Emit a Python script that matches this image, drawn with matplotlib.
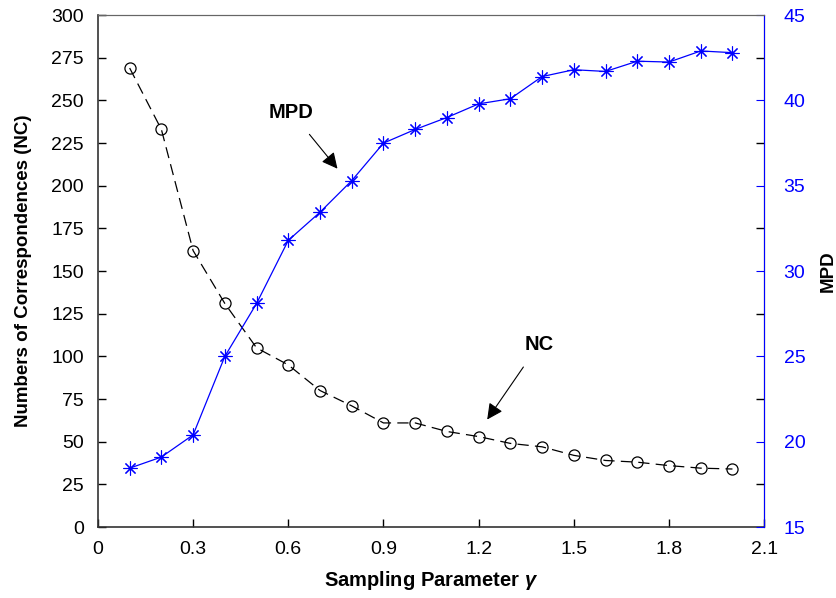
import matplotlib
matplotlib.use('Agg')
import matplotlib.pyplot as plt
import numpy as np

gamma = [0.1, 0.2, 0.3, 0.4, 0.5, 0.6, 0.7, 0.8, 0.9, 1.0,
         1.1, 1.2, 1.3, 1.4, 1.5, 1.6, 1.7, 1.8, 1.9, 2.0]
nc = [269, 233, 162, 131, 105, 95, 80, 71, 61, 61,
      56, 53, 49, 47, 42, 39, 38, 36, 34.5, 34]
mpd = [18.45, 19.1, 20.4, 25.0, 28.1, 31.8, 33.45, 35.3, 37.5, 38.3,
       39.0, 39.8, 40.1, 41.4, 41.8, 41.7, 42.3, 42.25, 42.9, 42.8]

plt.rcParams['font.family'] = ['Liberation Sans', 'DejaVu Sans']
plt.rcParams['mathtext.fontset'] = 'custom'
plt.rcParams['mathtext.it'] = 'Liberation Sans:italic:bold'

fig = plt.figure(figsize=(8.37, 5.98), dpi=100)
ax = fig.add_axes([0.117, 0.1187, 0.796, 0.856])
ax2 = ax.twinx()

ax.plot(gamma, nc, color='black', lw=0.9, dashes=(9, 5),
        marker='o', ms=8, mfc='none', mec='black', mew=0.9)
ax2.plot(gamma, mpd, color='blue', lw=0.9,
         marker=(8, 2, 0), ms=10, mec='blue', mew=0.8)

ax.set_xlim(0, 2.1)
ax.set_ylim(0, 300)
ax.set_xticks(np.arange(0, 2.11, 0.3))
ax.set_xticklabels(['0', '0.3', '0.6', '0.9', '1.2', '1.5', '1.8', '2.1'])
ax.set_yticks(np.arange(0, 301, 25))
ax2.set_ylim(15, 45)
ax2.set_yticks(np.arange(15, 46, 5))
ax2.set_yticks(np.arange(17.5, 45, 5), minor=True)

ax.tick_params(direction='in', length=6, labelsize=14, pad=10, width=1)
ax2.tick_params(axis='y', which='major', direction='in', length=6,
                labelsize=14, labelcolor='blue', color='blue', pad=14)
ax2.tick_params(axis='y', which='minor', direction='in', length=6,
                color='black', width=1)

for s in ['left', 'bottom']:
    ax.spines[s].set_color('#333333')
    ax.spines[s].set_linewidth(1.2)
ax.spines['top'].set_color('#666666')
ax2.spines['top'].set_color('#666666')
ax2.spines['right'].set_color('blue')
ax2.spines['left'].set_visible(False)
ax2.spines['bottom'].set_visible(False)

ax.set_xlabel(r'Sampling Parameter $\gamma$', fontsize=14.5, fontweight='bold', labelpad=8)
ax.set_ylabel('Numbers of Correspondences (NC)', fontsize=13.5, fontweight='bold', labelpad=14)
ax2.set_ylabel('MPD', fontsize=13.5, fontweight='bold', labelpad=10)

ax2.annotate('MPD', xy=(0.755, 35.3 + 0.7), xytext=(0.61, 39.3),
             fontsize=14.5, fontweight='bold', ha='center', va='center',
             arrowprops=dict(arrowstyle='-|>', color='black', lw=0.8,
                             mutation_scale=24, shrinkA=9, shrinkB=0))
ax.annotate('NC', xy=(1.227, 63), xytext=(1.39, 107),
            fontsize=14.5, fontweight='bold', ha='center', va='center',
            arrowprops=dict(arrowstyle='-|>', color='black', lw=0.8,
                            mutation_scale=24, shrinkA=9, shrinkB=0))

fig.savefig('out.png', dpi=100)
